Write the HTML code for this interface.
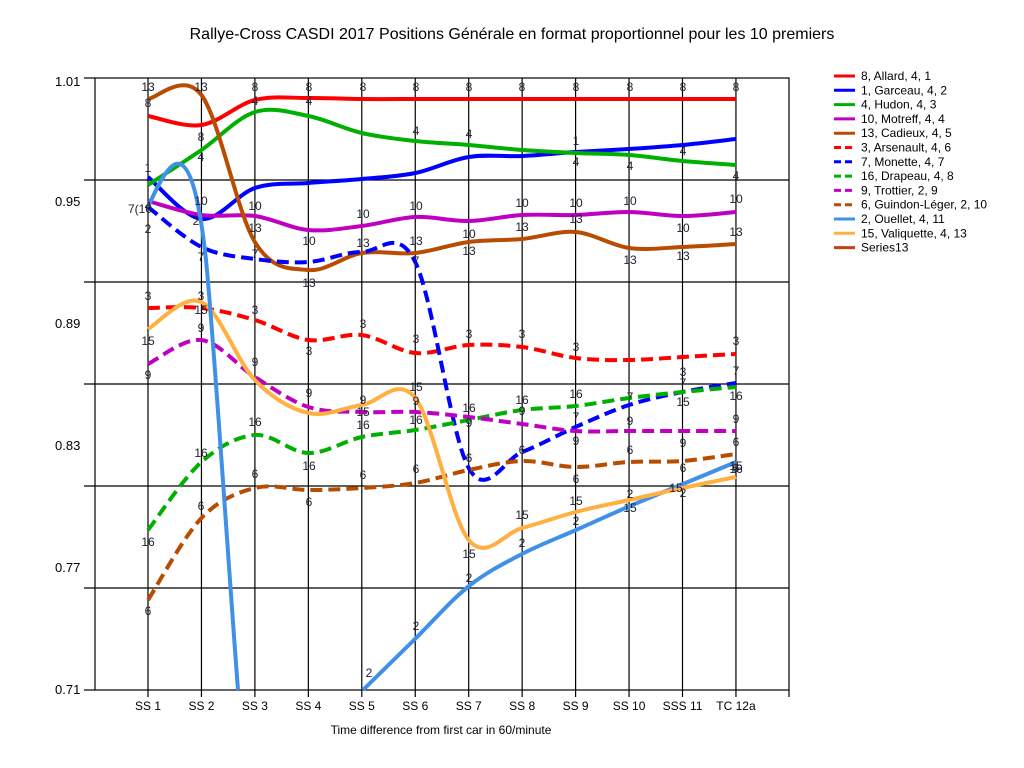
<!DOCTYPE html>
<html><head><meta charset="utf-8"><style>
html,body{margin:0;padding:0;background:#fff;width:1024px;height:768px;overflow:hidden;}
svg{display:block;font-family:"Liberation Sans",sans-serif;}
</style></head><body>
<svg id="s" width="1024" height="768" viewBox="0 0 1024 768" xmlns="http://www.w3.org/2000/svg">
<rect width="1024" height="768" fill="#fff"/>
<text x="512" y="39" font-size="16" text-anchor="middle" fill="#000">Rallye-Cross CASDI 2017  Positions Générale en format proportionnel pour les 10 premiers</text>
<g id="grid" stroke="#000" stroke-width="1.2" fill="none"></g>
<g id="lines" fill="none" stroke-width="4"></g>
<g id="lbl" font-size="12" fill="#223" text-anchor="middle"></g>
<g font-size="13" fill="#000" text-anchor="start">
<text x="55" y="86">1.01</text><text x="55" y="206">0.95</text><text x="55" y="328">0.89</text>
<text x="55" y="450">0.83</text><text x="55" y="572">0.77</text><text x="55" y="694">0.71</text>
</g>
<text x="441" y="734" font-size="12" text-anchor="middle">Time difference from first car in 60/minute</text>
<g id="leg" font-size="12"></g>
</svg>
<script>
var NS="http://www.w3.org/2000/svg";
function el(p,t,a,txt){var e=document.createElementNS(NS,t);for(var k in a)e.setAttribute(k,a[k]);if(txt!==undefined)e.textContent=txt;document.getElementById(p).appendChild(e);return e;}
var X=[];for(var i=0;i<12;i++)X.push(148+53.45*i);
el("grid","rect",{x:95,y:78,width:694,height:612});
for(var k=1;k<6;k++){var y=78+102*k;el("grid","line",{x1:84,y1:y,x2:789,y2:y});}
el("grid","line",{x1:84,y1:78,x2:95,y2:78});el("grid","line",{x1:84,y1:690,x2:95,y2:690});
for(var i=0;i<12;i++)el("grid","line",{x1:X[i],y1:78,x2:X[i],y2:697});
el("grid","line",{x1:789,y1:690,x2:789,y2:697});
var cats=["SS 1","SS 2","SS 3","SS 4","SS 5","SS 6","SS 7","SS 8","SS 9","SS 10","SSS 11","TC 12a"];
for(var i=0;i<12;i++)el("lbl","text",{x:X[i],y:710,fill:"#000"},cats[i]);
function path(pts){var d="M"+pts[0][0]+","+pts[0][1];for(var i=0;i<pts.length-1;i++){var p0=pts[i-1]||pts[i],p1=pts[i],p2=pts[i+1],p3=pts[i+2]||p2;var t=1/6;
d+=" C"+(p1[0]+(p2[0]-p0[0])*t)+","+(p1[1]+(p2[1]-p0[1])*t)+" "+(p2[0]-(p3[0]-p1[0])*t)+","+(p2[1]-(p3[1]-p1[1])*t)+" "+p2[0]+","+p2[1];}return d;}
function cy(ys,o){o=o||0;return ys.map(function(y,i){return [X[i+o],y];});}
var S=[
["#ff0000",0,cy([116,125,100,98,99,99,99,99,99,99,99,99])],
["#0000ff",0,cy([177,219,188,183,179,173,157,156,152,149,145,139])],
["#00b000",0,cy([185,150,112,116,133,141,145,150,153,155,161,165])],
["#c000c0",0,cy([201,215,216,230,226,217,221,215,215,212,216,212])],
["#b84c00",0,cy([99,95,242,270,253,253,242,239,232,248,247,244])],
["#ff0000",1,cy([308,308,320,340,335,353,345,347,358,360,357,354])],
["#0000ff",1,cy([207,247,259,262,252,262,468,452,427,405,392,383])],
["#00b000",1,cy([530,462,435,453,437,430,420,410,406,398,392,387])],
["#c000c0",1,cy([364,340,377,407,412,412,417,424,431,431,431,431])],
["#b84c00",1,cy([600,518,488,490,488,483,470,461,467,462,461,454])],
["#4090e8",0,[[363,690],[416,638],[469,586],[522,554],[576,530],[630,506],[683,484],[736,462]]],
["#ffb040",0,cy([329,302,380,413,405,398,540,528,512,500,488,477])]
];
S.forEach(function(s){var a={d:path(s[2]),stroke:s[0]};if(s[1])a["stroke-dasharray"]="12,6";el("lines","path",a);});
el("lines","path",{d:"M148,207 C158,185 170,160 180,164 C192,168 200,205 206,260 C214,340 228,560 238,690",stroke:"#4090e8"});
var L=[[148,91,"13"],[148,107,"8"],[201,91,"13"],[201,141,"8"],[201,161,"4"],[255,91,"8"],[255,105,"4"],[309,91,"8"],[309,105,"4"],
[363,91,"8"],[416,91,"8"],[469,91,"8"],[522,91,"8"],[576,91,"8"],[630,91,"8"],[683,91,"8"],[736,91,"8"],
[416,135,"4"],[469,138,"4"],[576,145,"1"],[576,166,"4"],[630,170,"4"],[683,155,"4"],[736,180,"4"],
[148,172,"1"],[148,210,"4"],[148,233,"2"],[140,213,"7(10"],[201,205,"10"],[196,225,"2"],[201,261,"7"],[255,210,"10"],[255,232,"13"],[255,258,"7"],
[309,245,"10"],[309,287,"13"],[363,218,"10"],[363,247,"13"],[416,210,"10"],[416,245,"13"],[416,265,"7"],[469,238,"10"],[469,255,"13"],
[522,207,"10"],[522,231,"13"],[576,207,"10"],[576,223,"13"],[630,205,"10"],[630,264,"13"],[683,232,"10"],[683,260,"13"],[736,203,"10"],[736,236,"13"],
[148,300,"3"],[148,345,"15"],[148,379,"9"],[201,300,"3"],[201,314,"15"],[201,332,"9"],[255,314,"3"],[255,366,"9"],[309,355,"3"],[309,397,"9"],
[363,328,"3"],[363,404,"9"],[363,416,"15"],[363,429,"16"],[416,343,"3"],[416,391,"15"],[416,405,"9"],[416,424,"16"],[469,338,"3"],[469,412,"16"],[469,427,"9"],
[522,338,"3"],[522,404,"16"],[522,415,"9"],[576,351,"3"],[576,398,"16"],[576,421,"7"],[576,445,"9"],[630,401,"7"],[630,425,"9"],[683,376,"3"],[683,387,"7"],[683,406,"15"],[683,447,"9"],
[736,345,"3"],[736,375,"7"],[736,400,"16"],[736,423,"9"],[736,446,"6"],
[255,426,"16"],[309,470,"16"],[201,457,"16"],[148,546,"16"],[148,615,"6"],[201,510,"6"],[255,478,"6"],[309,506,"6"],[363,479,"6"],[416,473,"6"],[469,462,"6"],[522,454,"6"],
[576,483,"6"],[630,454,"6"],[683,472,"6"],[736,473,"16"],[736,472,"6"],[736,470,"15"],
[469,558,"15"],[469,582,"2"],[522,519,"15"],[522,547,"2"],[576,505,"15"],[576,525,"2"],[630,498,"2"],[630,512,"15"],[676,492,"15"],[683,497,"2"],[416,630,"2"],[369,677,"2"]];
L.forEach(function(l){el("lbl","text",{x:l[0],y:l[1]},l[2]);});
var G=[["#ff0000",0,"8, Allard, 4, 1"],["#0000ff",0,"1, Garceau, 4, 2"],["#00b000",0,"4, Hudon, 4, 3"],["#c000c0",0,"10, Motreff, 4, 4"],["#b84c00",0,"13, Cadieux, 4, 5"],
["#ff0000",1,"3, Arsenault, 4, 6"],["#0000ff",1,"7, Monette, 4, 7"],["#00b000",1,"16, Drapeau, 4, 8"],["#c000c0",1,"9, Trottier, 2, 9"],["#b84c00",1,"6, Guindon-Léger, 2, 10"],
["#4090e8",0,"2, Ouellet, 4, 11"],["#ffb040",0,"15, Valiquette, 4, 13"],["#c84010",0,"Series13"]];
G.forEach(function(g,i){var y=76+14.3*i;var a={x1:834,y1:y,x2:855,y2:y,stroke:g[0],"stroke-width":3};if(g[1])a["stroke-dasharray"]="7,4";el("leg","line",a);el("leg","text",{x:861,y:y+4,fill:"#000"},g[2]);});
</script>
</body></html>
